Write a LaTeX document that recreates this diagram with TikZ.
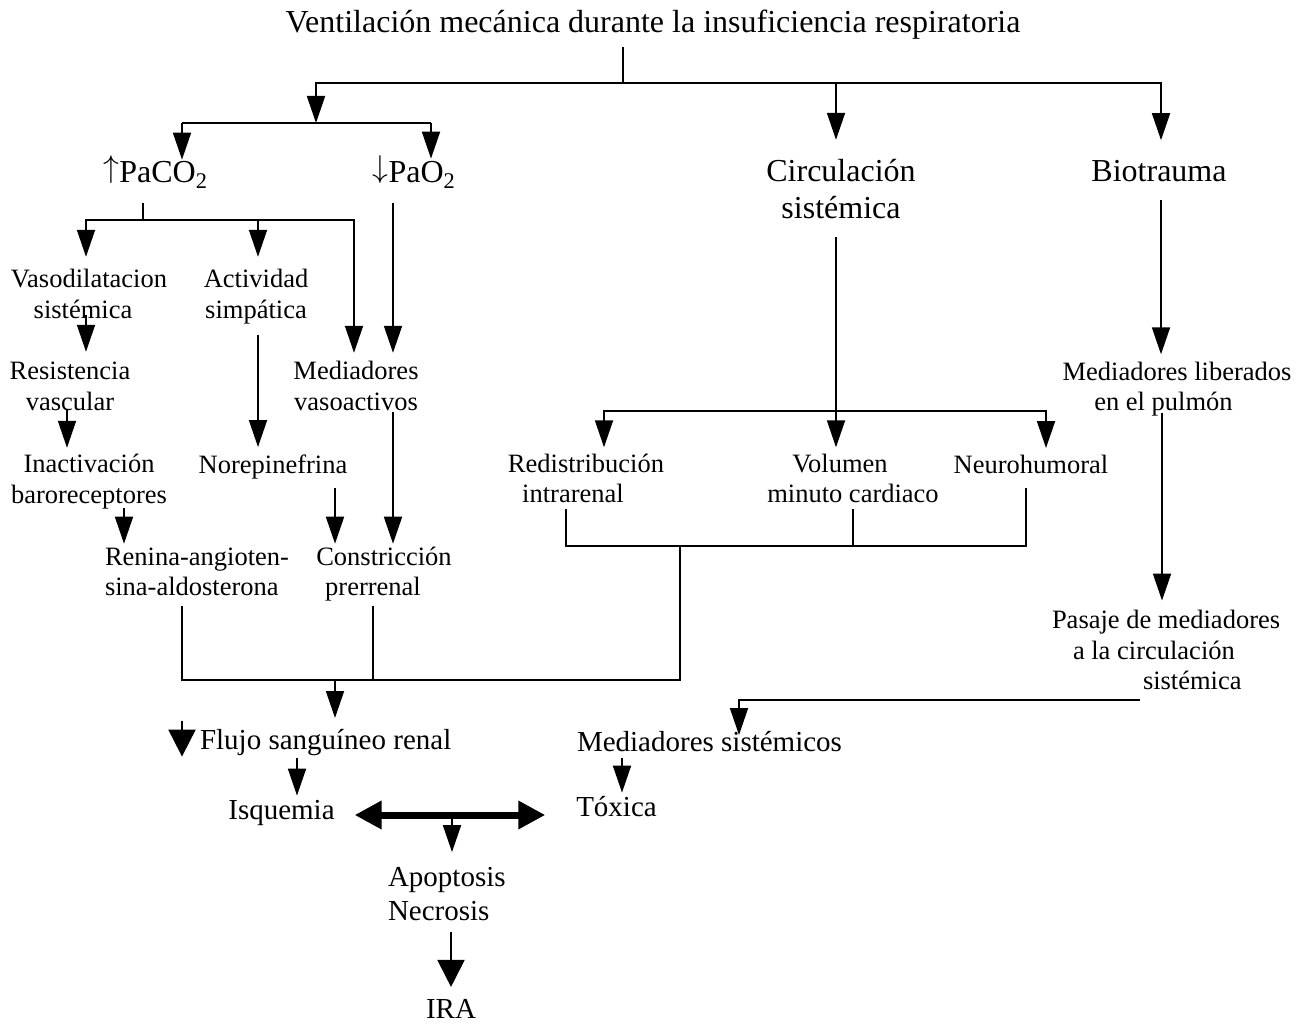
\documentclass[tikz,border=0pt]{standalone}
\usepackage{fontspec}
\usepackage{graphicx}
\setmainfont{Liberation Serif}
\usetikzlibrary{arrows.meta,calc}
\newcommand{\myup}{\raisebox{5pt}{\scalebox{1.27}{$\uparrow$}}}
\newcommand{\mydown}{\raisebox{5pt}{\scalebox{1.27}{$\downarrow$}}}
\begin{document}
\begin{tikzpicture}[x=1pt,y=-1pt,
  every node/.style={inner sep=0pt,outer sep=0pt},
  big/.style={font=\fontsize{32}{36.8}\selectfont,align=center},
  sml/.style={font=\fontsize{26.5}{30.5}\selectfont,align=center},
  med/.style={font=\fontsize{29}{34.8}\selectfont,align=center},
  ln/.style={line width=1.8pt},
  arr/.style={line width=1.8pt,-{Triangle[length=27pt,width=18pt]}},
  bigarr/.style={line width=2pt,-{Triangle[length=27pt,width=27pt]}},
  dbl/.style={line width=7pt,{Triangle[length=27pt,width=27pt]}-{Triangle[length=27pt,width=27pt]}}]
\useasboundingbox[fill=white] (0,0) rectangle (1303,1024);

% ---------- nodes ----------
\node[big] (title) at (653,25.6) {\strut Ventilación mecánica durante la insuficiencia respiratoria};
\node[big] (paco2) at (155.5,174.6) {\strut\myup PaCO\textsubscript{2}};
\node[big] (pao2) at (414,174.6) {\strut\mydown PaO\textsubscript{2}};
\node[big] (circ) at (841,192.6) {\strut Circulación\\sistémica\strut};
\node[big] (bio) at (1159,174.6) {\strut Biotrauma};

\node[sml] (vaso) at (89,296.9) {\strut Vasodilatacion\\sistémica\hspace*{12pt}\strut};
\node[sml] (activ) at (256,296.9) {\strut Actividad\\simpática\strut};
\node[sml] (resis) at (70,388.9) {\strut Resistencia\\vascular\strut};
\node[sml] (vasoact) at (356,388.9) {\strut Mediadores\\vasoactivos\strut};
\node[sml] (inact) at (89,481.9) {\strut Inactivación\\baroreceptores\strut};
\node[sml] (norep) at (273,466.9) {\strut Norepinefrina};
\node[sml,align=left,anchor=west] (renina) at (105,574.2) {\strut Renina-angioten-\\sina-aldosterona\strut};
\node[sml] (constr) at (384,574.2) {\strut Constricción\\prerrenal\hspace*{22pt}\strut};
\node[sml] (mlib) at (1177,389.4) {\strut Mediadores liberados\\en el pulmón\hspace*{27pt}\strut};
\node[sml] (redis) at (586,481.4) {\strut Redistribución\\intrarenal\hspace*{26pt}\strut};
\node[sml] (volumen) at (853,481.4) {\strut Volumen\hspace*{26pt}\\minuto cardiaco\strut};
\node[sml] (neuro) at (1031,466.9) {\strut Neurohumoral};
\node[sml,align=left,anchor=west] (pasaje) at (1052,652.9) {\strut Pasaje de mediadores\\\hspace*{21pt}a la circulación\\\hspace*{91pt}sistémica\strut};

\node[med,anchor=west] (flujo) at (200,743) {\strut Flujo sanguíneo renal};
\node[med] (isq) at (281.5,813) {\strut Isquemia};
\node[med] (msis) at (709.5,745) {\strut Mediadores sistémicos};
\node[med] (toxica) at (616.5,810) {\strut Tóxica};
\node[med,align=left,anchor=west] (apop) at (388,896.5) {\strut Apoptosis\\Necrosis\strut};
\node[med] (ira) at (451,1009) {IRA};

% ---------- junctions ----------
\coordinate (j0) at (623,83);
\coordinate (j2) at (316,123);
\coordinate (j2L) at (182,123);
\coordinate (j2R) at (431,123);
\coordinate (cx) at (836,83);
\coordinate (p1) at (143,220);
\coordinate (p1M) at (258,220);
\coordinate (cb) at (836,411);
\coordinate (u0) at (566,546);
\coordinate (u2) at (853,546);
\coordinate (u3) at (1026,546);
\coordinate (b1) at (182,680);
\coordinate (b2) at (680,680);
\coordinate (u1) at (680,546);
\coordinate (b3) at (373,680);
\coordinate (b4) at (335,680);
\coordinate (dm) at (452,815);

% ---------- top ----------
\draw[ln] ([xshift=-30pt,yshift=-3pt]title.south) -- (j0);
\draw[arr] (j0) -| (j2);
\draw[arr] (j0) -| ([xshift=2pt,yshift=16pt]bio.north);
\draw[arr] (cx) -- ([xshift=-5pt,yshift=16pt]circ.north);
\draw[ln] (j2L) -- (j2R);
\draw[arr] (j2L) -- ([xshift=26.5pt,yshift=-4pt]paco2.north);
\draw[arr] (j2R) -- ([xshift=17pt,yshift=-3pt]pao2.north);

% ---------- PaCO2 branch ----------
\draw[ln] ([xshift=-12.5pt,yshift=-9pt]paco2.south) -- (p1);
\draw[arr] (p1) -| ([xshift=-3pt,yshift=9.6pt]vaso.north);
\draw[arr] (p1) -| ([xshift=-2pt,yshift=5.6pt]vasoact.north);
\draw[arr] (p1M) -- ([xshift=2pt,yshift=9.6pt]activ.north);
\draw[arr] ([xshift=-21pt,yshift=-9pt]pao2.south) -- ([xshift=37pt,yshift=5.6pt]vasoact.north);

\draw[arr] ([xshift=-3pt,yshift=12pt]vaso.south) -- ([xshift=16pt,yshift=6.6pt]resis.north);
\draw[arr] ([xshift=-3pt,yshift=9pt]resis.south) -- ([xshift=-22pt,yshift=3.6pt]inact.north);
\draw[arr] ([xshift=35pt,yshift=4pt]inact.south) -- ([xshift=19pt]renina.north west);
\draw[arr] ([xshift=2pt,yshift=-8pt]activ.south) -- ([xshift=-15pt,yshift=4.6pt]norep.north);
\draw[arr] ([xshift=62pt,yshift=-6pt]norep.south) -- ([xshift=-49pt]constr.north);
\draw[arr] ([xshift=37pt,yshift=7pt]vasoact.south) -- ([xshift=9pt]constr.north);

% ---------- circulation branch ----------
\draw[ln] ([xshift=-5pt,yshift=-8pt]circ.south) -- (cb);
\draw[arr] (cb) -- ([xshift=-17pt,yshift=3.6pt]volumen.north);
\draw[arr] (cb) -| ([xshift=18pt,yshift=3.6pt]redis.north);
\draw[arr] (cb) -| ([xshift=15pt,yshift=3.6pt]neuro.north);
\draw[ln] ([xshift=-20pt,yshift=3pt]redis.south) -- (u0) -- (u3) -- ([xshift=-5pt,yshift=-6pt]neuro.south);
\draw[ln] ([yshift=3pt]volumen.south) -- (u2);

% ---------- lower bus ----------
\draw[ln] ([xshift=77pt,yshift=-1pt]renina.south west) -- (b1) -- (b2) -- (u1);
\draw[ln] ([xshift=-11pt,yshift=-1pt]constr.south) -- (b3);
\draw[arr] (b4) -- ([xshift=135pt,yshift=7.6pt]flujo.north west);

% ---------- biotrauma branch ----------
\draw[arr] ([xshift=2pt,yshift=-7pt]bio.south) -- ([xshift=-16pt,yshift=4.6pt]mlib.north);
\draw[arr] ([xshift=-15pt,yshift=7pt]mlib.south) -- ([xshift=110pt,yshift=6.6pt]pasaje.north west);
\draw[arr] ([xshift=88pt,yshift=-1.3pt]pasaje.south west) -| ([xshift=29.5pt,yshift=-7.4pt]msis.north);

% ---------- bottom ----------
\draw[bigarr] ([xshift=-18pt,yshift=22.4pt]flujo.west) -- ([xshift=-18pt,yshift=-13.6pt]flujo.west);
\draw[arr] ([xshift=97pt,yshift=2.4pt]flujo.south west) -- ([xshift=15.5pt]isq.north);
\draw[arr] ([xshift=-87.5pt,yshift=4.4pt]msis.south) -- ([xshift=5.5pt]toxica.north);
\draw[dbl] ($(isq.east |- dm)+(20,0)$) -- ($(toxica.west |- dm)+(-31,0)$);
\draw[arr] (dm) -- ([xshift=64pt,yshift=9.6pt]apop.north west);
\draw[bigarr] ([xshift=63pt,yshift=-0.6pt]apop.south west) -- ([yshift=12.5pt]ira.north);
\end{tikzpicture}
\end{document}
